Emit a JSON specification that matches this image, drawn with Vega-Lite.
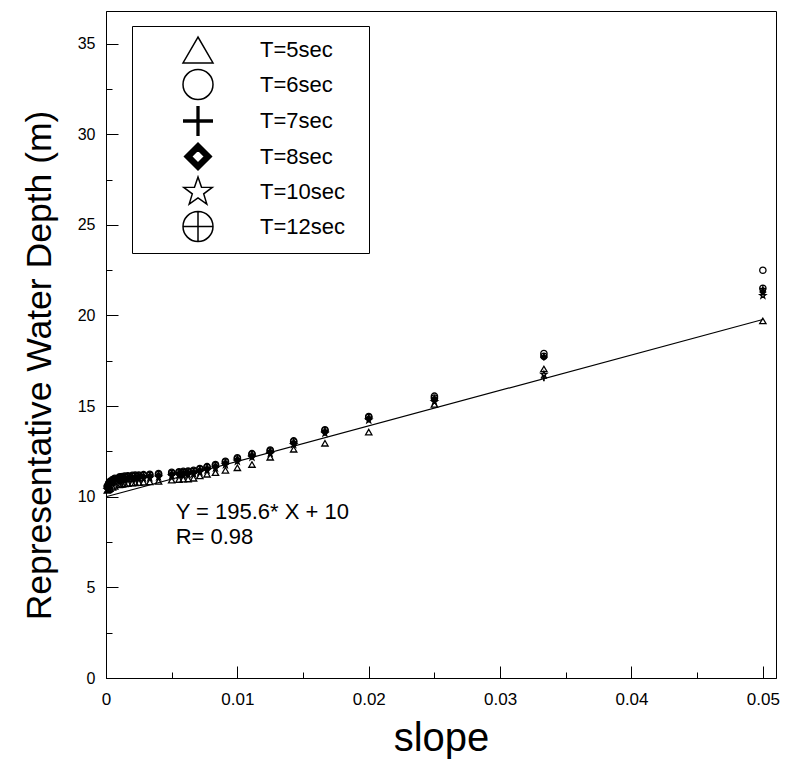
{
  "$schema": "https://vega.github.io/schema/vega-lite/v6.json",
  "width": 670,
  "height": 667,
  "autosize": "none",
  "padding": {"left": 106, "top": 11, "right": 9, "bottom": 83},
  "background": "white",
  "config": {
    "view": {"stroke": "black", "strokeWidth": 1},
    "font": "Liberation Sans",
    "axis": {
      "domainColor": "black",
      "tickColor": "black",
      "labelColor": "black",
      "titleColor": "black",
      "grid": false,
      "labelFont": "Liberation Sans",
      "titleFont": "Liberation Sans",
      "titleFontWeight": "normal"
    }
  },
  "datasets": {
    "depths": [
      {"slope": 0.0001, "T=5sec": 10.35, "T=6sec": 10.6, "T=7sec": 10.45, "T=8sec": 10.5, "T=10sec": 10.4, "T=12sec": 10.55},
      {"slope": 0.0002, "T=5sec": 10.4, "T=6sec": 10.75, "T=7sec": 10.6, "T=8sec": 10.65, "T=10sec": 10.55, "T=12sec": 10.7},
      {"slope": 0.0003, "T=5sec": 10.45, "T=6sec": 10.85, "T=7sec": 10.7, "T=8sec": 10.75, "T=10sec": 10.65, "T=12sec": 10.8},
      {"slope": 0.0005, "T=5sec": 10.52, "T=6sec": 10.95, "T=7sec": 10.8, "T=8sec": 10.85, "T=10sec": 10.75, "T=12sec": 10.9},
      {"slope": 0.000667, "T=5sec": 10.58, "T=6sec": 11.02, "T=7sec": 10.87, "T=8sec": 10.92, "T=10sec": 10.82, "T=12sec": 10.97},
      {"slope": 0.001, "T=5sec": 10.65, "T=6sec": 11.08, "T=7sec": 10.93, "T=8sec": 10.98, "T=10sec": 10.88, "T=12sec": 11.03},
      {"slope": 0.001111, "T=5sec": 10.67, "T=6sec": 11.1, "T=7sec": 10.95, "T=8sec": 11.0, "T=10sec": 10.9, "T=12sec": 11.05},
      {"slope": 0.00125, "T=5sec": 10.69, "T=6sec": 11.12, "T=7sec": 10.97, "T=8sec": 11.02, "T=10sec": 10.92, "T=12sec": 11.07},
      {"slope": 0.001429, "T=5sec": 10.71, "T=6sec": 11.14, "T=7sec": 10.99, "T=8sec": 11.04, "T=10sec": 10.94, "T=12sec": 11.09},
      {"slope": 0.001667, "T=5sec": 10.73, "T=6sec": 11.16, "T=7sec": 11.01, "T=8sec": 11.06, "T=10sec": 10.96, "T=12sec": 11.11},
      {"slope": 0.002, "T=5sec": 10.75, "T=6sec": 11.18, "T=7sec": 11.03, "T=8sec": 11.08, "T=10sec": 10.98, "T=12sec": 11.13},
      {"slope": 0.002222, "T=5sec": 10.76, "T=6sec": 11.19, "T=7sec": 11.04, "T=8sec": 11.09, "T=10sec": 10.99, "T=12sec": 11.14},
      {"slope": 0.0025, "T=5sec": 10.78, "T=6sec": 11.2, "T=7sec": 11.05, "T=8sec": 11.1, "T=10sec": 11.0, "T=12sec": 11.15},
      {"slope": 0.002857, "T=5sec": 10.8, "T=6sec": 11.22, "T=7sec": 11.07, "T=8sec": 11.12, "T=10sec": 11.02, "T=12sec": 11.17},
      {"slope": 0.003333, "T=5sec": 10.82, "T=6sec": 11.24, "T=7sec": 11.09, "T=8sec": 11.14, "T=10sec": 11.04, "T=12sec": 11.19},
      {"slope": 0.004, "T=5sec": 10.85, "T=6sec": 11.28, "T=7sec": 11.13, "T=8sec": 11.18, "T=10sec": 11.08, "T=12sec": 11.23},
      {"slope": 0.005, "T=5sec": 10.92, "T=6sec": 11.35, "T=7sec": 11.2, "T=8sec": 11.25, "T=10sec": 11.15, "T=12sec": 11.3},
      {"slope": 0.005556, "T=5sec": 10.95, "T=6sec": 11.38, "T=7sec": 11.23, "T=8sec": 11.28, "T=10sec": 11.18, "T=12sec": 11.33},
      {"slope": 0.005882, "T=5sec": 10.97, "T=6sec": 11.4, "T=7sec": 11.25, "T=8sec": 11.3, "T=10sec": 11.2, "T=12sec": 11.35},
      {"slope": 0.00625, "T=5sec": 10.98, "T=6sec": 11.42, "T=7sec": 11.27, "T=8sec": 11.32, "T=10sec": 11.22, "T=12sec": 11.37},
      {"slope": 0.006667, "T=5sec": 11.02, "T=6sec": 11.46, "T=7sec": 11.31, "T=8sec": 11.36, "T=10sec": 11.26, "T=12sec": 11.41},
      {"slope": 0.007143, "T=5sec": 11.15, "T=6sec": 11.56, "T=7sec": 11.41, "T=8sec": 11.46, "T=10sec": 11.36, "T=12sec": 11.51},
      {"slope": 0.007692, "T=5sec": 11.24, "T=6sec": 11.66, "T=7sec": 11.51, "T=8sec": 11.56, "T=10sec": 11.46, "T=12sec": 11.61},
      {"slope": 0.008333, "T=5sec": 11.33, "T=6sec": 11.78, "T=7sec": 11.63, "T=8sec": 11.68, "T=10sec": 11.58, "T=12sec": 11.73},
      {"slope": 0.009091, "T=5sec": 11.46, "T=6sec": 11.96, "T=7sec": 11.81, "T=8sec": 11.86, "T=10sec": 11.76, "T=12sec": 11.91},
      {"slope": 0.01, "T=5sec": 11.6, "T=6sec": 12.15, "T=7sec": 12.0, "T=8sec": 12.05, "T=10sec": 11.95, "T=12sec": 12.1},
      {"slope": 0.011111, "T=5sec": 11.78, "T=6sec": 12.38, "T=7sec": 12.23, "T=8sec": 12.28, "T=10sec": 12.18, "T=12sec": 12.33},
      {"slope": 0.0125, "T=5sec": 12.18, "T=6sec": 12.58, "T=7sec": 12.43, "T=8sec": 12.48, "T=10sec": 12.38, "T=12sec": 12.53},
      {"slope": 0.014286, "T=5sec": 12.62, "T=6sec": 13.08, "T=7sec": 12.93, "T=8sec": 12.98, "T=10sec": 12.88, "T=12sec": 13.03},
      {"slope": 0.016667, "T=5sec": 12.95, "T=6sec": 13.7, "T=7sec": 13.55, "T=8sec": 13.6, "T=10sec": 13.5, "T=12sec": 13.65},
      {"slope": 0.02, "T=5sec": 13.57, "T=6sec": 14.43, "T=7sec": 14.28, "T=8sec": 14.33, "T=10sec": 14.23, "T=12sec": 14.38},
      {"slope": 0.025, "T=5sec": 15.1, "T=6sec": 15.55, "T=7sec": 15.3, "T=8sec": 15.4, "T=10sec": 15.25, "T=12sec": 15.45},
      {"slope": 0.033333, "T=5sec": 17.05, "T=6sec": 17.9, "T=7sec": 16.55, "T=8sec": 17.7, "T=10sec": 16.75, "T=12sec": 17.75},
      {"slope": 0.05, "T=5sec": 19.7, "T=6sec": 22.5, "T=7sec": 21.4, "T=8sec": 21.3, "T=10sec": 21.1, "T=12sec": 21.5}
    ],
    "fit": [{"slope": 0, "depth": 10}, {"slope": 0.05, "depth": 19.78}]
  },
  "layer": [
    {
      "data": {"name": "depths"},
      "transform": [
        {"fold": ["T=5sec", "T=6sec", "T=7sec", "T=8sec", "T=10sec", "T=12sec"], "as": ["T", "depth"]}
      ],
      "mark": {"type": "point", "filled": false, "stroke": "black", "size": 40, "opacity": 1, "strokeWidth": 1.3},
      "encoding": {
        "x": {
          "field": "slope",
          "type": "quantitative",
          "scale": {"domain": [0, 0.051], "nice": false, "zero": true},
          "axis": {
            "title": "slope",
            "titleFontSize": 40,
            "titlePadding": 5,
            "values": [0, 0.005, 0.01, 0.015, 0.02, 0.025, 0.03, 0.035, 0.04, 0.045, 0.05],
            "labelExpr": "datum.value == 0 ? '0' : (round(datum.value * 200) % 2 == 0 ? format(datum.value, '.2f') : '')",
            "labelFontSize": 17,
            "labelPadding": 25,
            "labelFlush": false,
            "labelOverlap": false,
            "tickSize": {"condition": {"test": "round(datum.value * 200) % 2 == 0", "value": -12}, "value": -6}
          }
        },
        "y": {
          "field": "depth",
          "type": "quantitative",
          "scale": {"domain": [0, 36.8], "nice": false},
          "axis": {
            "title": "Representative Water Depth (m)",
            "titleFontSize": 35.5,
            "titlePadding": 20,
            "titleY": 354,
            "values": [0, 2.5, 5, 7.5, 10, 12.5, 15, 17.5, 20, 22.5, 25, 27.5, 30, 32.5, 35],
            "labelExpr": "datum.value % 5 == 0 ? datum.label : ''",
            "labelFontSize": 16,
            "labelPadding": 23,
            "labelFlush": false,
            "labelOverlap": false,
            "tickSize": {"condition": {"test": "datum.value % 5 == 0", "value": -12}, "value": -6}
          }
        },
        "shape": {
          "field": "T",
          "type": "nominal",
          "scale": {
            "domain": ["T=5sec", "T=6sec", "T=7sec", "T=8sec", "T=10sec", "T=12sec"],
            "range": [
              "triangle-up",
              "circle",
              "M-1,0H1M-1,-0.06H1M-1,0.06H1M0,-1V1M-0.06,-1V1M0.06,-1V1",
              "M-0.9,0L0,-0.9L0.9,0L0,0.9ZM-0.84,0L0,-0.84L0.84,0L0,0.84ZM-0.78,0L0,-0.78L0.78,0L0,0.78ZM-0.72,0L0,-0.72L0.72,0L0,0.72ZM-0.66,0L0,-0.66L0.66,0L0,0.66ZM-0.6,0L0,-0.6L0.6,0L0,0.6ZM-0.54,0L0,-0.54L0.54,0L0,0.54ZM-0.48,0L0,-0.48L0.48,0L0,0.48ZM-0.43,0L0,-0.43L0.43,0L0,0.43Z",
              "M0,-1L0.235,-0.324L0.951,-0.309L0.38,0.124L0.588,0.809L0,0.4L-0.588,0.809L-0.38,0.124L-0.951,-0.309L-0.235,-0.324Z",
              "M-1,0A1,1,0,1,1,1,0A1,1,0,1,1,-1,0ZM-1,0H1M0,-1V1"
            ]
          },
          "legend": {
            "orient": "none",
            "legendX": 26,
            "legendY": 15,
            "title": null,
            "strokeColor": "black",
            "fillColor": "white",
            "padding": 8,
            "symbolSize": 900,
            "symbolOpacity": 1,
            "symbolStrokeColor": "black",
            "symbolFillColor": "transparent",
            "symbolStrokeWidth": 1.5,
            "symbolOffset": 42,
            "labelOffset": 46,
            "labelFontSize": 22,
            "labelFont": "Liberation Sans",
            "labelColor": "black",
            "rowPadding": 0.5,
            "labelExpr": "datum.label + '\u2800'"
          }
        }
      }
    },
    {
      "data": {"name": "fit"},
      "mark": {"type": "line", "color": "black", "strokeWidth": 1.2},
      "encoding": {
        "x": {"field": "slope", "type": "quantitative", "title": "slope"},
        "y": {"field": "depth", "type": "quantitative", "title": "Representative Water Depth (m)"}
      }
    },
    {
      "data": {"values": [{}]},
      "mark": {
        "type": "text",
        "text": ["Y = 195.6* X + 10", "R= 0.98"],
        "align": "left",
        "baseline": "top",
        "fontSize": 22,
        "lineHeight": 25,
        "font": "Liberation Sans",
        "color": "black"
      },
      "encoding": {
        "x": {"datum": 0.0053, "type": "quantitative"},
        "y": {"datum": 9.7, "type": "quantitative"}
      }
    }
  ]
}
